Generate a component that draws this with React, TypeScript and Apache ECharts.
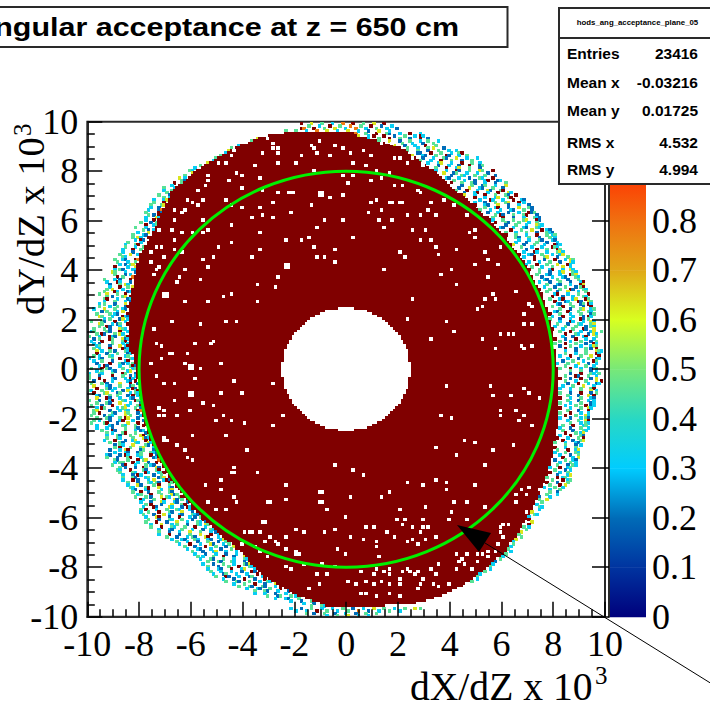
import React, { useEffect, useRef } from "react";
import * as echarts from "echarts";

const axisTicksMin = -10;
const axisTicksMax = 10;
const colorbarLabels = [0, 0.1, 0.2, 0.3, 0.4, 0.5, 0.6, 0.7, 0.8];

const titleText = "angular acceptance at z = 650 cm";
const statsName = "hods_ang_acceptance_plane_05";
const statsLabels = ["Entries", "Mean x", "Mean y", "RMS x", "RMS y"];
const statsValues = ["23416", "-0.03216", "0.01725", "4.532", "4.994"];

const acceptanceCircle = [[0, 0, 8]];

// colour scale: [value, colour]
const paletteStops: [number, string][] = [
  [0, "#00007c"], [0.1, "#0034a0"], [0.2, "#006cb8"], [0.3, "#00ccff"], [0.4, "#28d8c4"],
  [0.5, "#78e878"], [0.6, "#d8ff20"], [0.7, "#e0a818"], [0.8, "#f07010"], [0.9, "#ff3300"], [1, "#800000"],
];
const cellCodes: Record<string, number> = { b: 0.2, c: 0.32, g: 0.46, y: 0.63, o: 0.78, r: 1 };

// full-efficiency region: left / right edge per row (tenths), rows from y = 9.5 downwards
const darkLeft = [
  -24,-30,-34,-36,-38,-41,-43,-45,-46,-48,
  -50,-51,-53,-55,-56,-58,-59,-60,-61,-62,
  -63,-65,-66,-67,-67,-68,-68,-69,-69,-70,
  -70,-71,-71,-72,-72,-73,-73,-73,-74,-74,
  -75,-75,-76,-76,-77,-77,-78,-78,-79,-79,
  -80,-80,-80,-81,-81,-81,-81,-81,-82,-82,
  -82,-82,-82,-83,-83,-83,-83,-83,-83,-84,
  -84,-84,-84,-84,-84,-84,-84,-84,-84,-84,
  -84,-84,-84,-84,-84,-84,-84,-84,-83,-83,
  -82,-82,-82,-82,-81,-81,-81,-81,-81,-81,
  -80,-80,-80,-80,-80,-80,-80,-79,-79,-79,
  -79,-79,-79,-79,-78,-78,-78,-78,-78,-77,
  -77,-77,-76,-76,-76,-75,-75,-74,-74,-73,
  -73,-73,-72,-72,-71,-71,-70,-70,-69,-69,
  -68,-67,-66,-66,-65,-64,-63,-63,-62,-61,
  -60,-60,-59,-58,-57,-56,-55,-54,-53,-52,
  -51,-50,-49,-48,-47,-46,-44,-43,-42,-41,
  -40,-39,-38,-37,-37,-36,-35,-34,-33,-32,
  -30,-29,-27,-26,-24,-22,-21,-19,-16,-13,
  -10,-8,
];
const darkRight = [
  3,4,8,12,15,18,21,23,24,25,
  27,28,29,31,32,34,35,36,37,38,
  39,40,41,42,43,45,46,47,48,49,
  50,51,52,53,55,56,56,57,58,59,
  60,61,62,62,63,64,64,65,66,66,
  67,68,69,69,70,70,71,71,72,72,
  73,73,74,74,75,76,76,76,77,77,
  77,78,78,78,78,78,79,79,79,79,
  80,80,80,80,80,80,80,80,81,81,
  81,81,81,81,81,82,82,82,82,82,
  82,82,82,82,82,82,82,82,82,82,
  82,82,82,82,82,82,82,82,82,82,
  81,81,81,81,81,80,80,80,80,80,
  80,80,79,79,79,78,78,78,78,77,
  77,77,76,76,75,75,75,74,74,73,
  73,72,72,71,71,70,70,69,68,68,
  67,67,66,66,65,64,63,63,62,62,
  61,60,58,57,56,55,54,53,51,50,
  49,48,46,45,43,41,39,37,34,31,
  27,15,
];
// central hole: half width per row, moving away from y = 0 (tenths)
const holeHalfWidth = [25,25,25,24,24,24,24,24,23,23,22,22,21,21,20,19,18,17,16,15,14,12,10,8,3];

// partial-efficiency cells beside the dark region, per row; last char touches the dark edge
const leftCells = `
. . y g . c g. y c g
.g c .y g. c.. gc. ..y g.. y.c. ..gb
r..g .c.. g...c .c..g ...g.r g...b ..g.c c...cy .g...r. g...gy
.c..b.. c...bo g....rb ..g.b.r c...yc ...c..r. g...b.g ...r..cg g...c... ...g.b.c
..c...y. g...cb.. ..g.yc..r ...c.rb.. .g....c.. c...gr... .g...c..g c...r..g. .c...b... g...y..cr
...gc..... g..cb...ro ..g...c..g. ....c.b.gy. .r....c..y ..c.gb...cc .yg...c...b ...g...b.c.. ...r.g...o g...c.b...r.
.c...rc...b. ..b...g.yc.. ..c...r..g.y ...g.y...c... ..g...rc...bc g..y...g..r.. ...g.b...gy.r ..gr...c...bc ..c...g...c.b ...c.g...b...y.
..g...c..g..br c...y...g..cb. ...b.g...c.y.. .g....g.cb...r ..yg...c...rcb .....c.g...by.c g...gb...r...c. ...yg...c.bg..r ...g..rb...c... g...g.b...ygc.
.cg....gb...r..c ....g.rb...g.yc.. g...c...rcb...gr ...b.g...rg...ybc c...r...g...gr. ..c.b....g...c.c g...cg...b...y.cr ....g.c...r....rbc ...y.c..g.b...gcr g...r...b...g...bc
..g.c...gc....cg.. c...cb...g..r...gc ..c..g...b....cr.. ...b....r...gb.c.g ....c.rb....c...grb .g...r.gb....g...cg ....c.g...cb....cy.. c...gc...g...rg...b .g...b....r...g..b.c g...r....cb...c.rc.
c..b...r..c.....cb.r. ..g...g.b....y...r..b g..y....cb...g...bg.. ....r...gb.c....c.rb. .gc...g...c...b.y..gr ...r...gy...bg...c.gc c...cb...g..g...b.r.c ..y...rb...c...cb..c g...b...cr...gc...rg. ...g...gb...y...c...b
.g...b...r....yc...gr ....c.rg....c.gy...g.b ..gy....b...c.gc...ro ...g.r....gb...yg...b. g....b.gc....y.g...cr ....g...gb...g.ry...b.. .g.c...b...cr...c...b g....gr...b...y...r.. ..c....cb...gc...g..r .c...c.b....g...gb...
.g...rb...g...c.bc. ...g.c...gr...g...b .c...gb...g...yr.g ..g...gc....g...ybc .c...r...b..cy...r. ..g...gb....gc...yc ....b.gc...y....gb. ...g.r...g...gy...c .b...c.yr....bg...b ..c...cb...bg...gcb
cb...b.rc...cg...r.b .g...b...gr...c....bc ..gb...g...r.gy....o ...c.gg...r.c...b..r. .g...br...c...g.cb... ....g.b...b..rg...yb. ..gc...r....gb...gr.. ...g....gc...rc...cgr ...c...b.rc....b..g.. ...g...gb...cg...bgy.
...c...r.b...c.y...crb ....g...b...gc.gb...rg ...c...yb....g.r...g.. ....gc....gr...y...cb. ...cb...cr....c..gy.. ...g..r..b...g...gb... ....cg...r...g...ybg.. ...g...g.b...y.gc...gr ....rc...g...r...yb.g. ...c...b...yc...cb...b
....g.r...b...y...gr.. ...c...rb....yc...b.rc ...g.r...c...g...gc...cr ..c..g...r...gb...y...b. ...g...b...y.c...cb...gcb ..c...yr...b...r...c.b.g ...g...b...gc...g...b...r ..g...r...b...y...c...gc.b ...c...y...c.g...b...gc.yg ..g...r...gc...g...r...c..
...c...cb...g...c...b..gc ..g...b...c...y...g...c.b .c...r...b...g...y...r..c ...g...b...c.gb...yr...c. ...c...cb...gc...cb...cy ....g...c...b...g...b..g ...c...r...c...yb...c.g. .....g...b...r...g...b..y ....c...cb...c...b...g.r .....g...b...cy...c...c.
....c...b...c...b...c.. ....g.c...g...r...b...y ....c...gb...g...c...gc .....g...gb...gc...b.r ....c...b...g...c...gby .....g...b...g...r...gc ....c...cb...r...cy...c ...g...c...c...b...rb. ...c...bg...c...c...r. ...g...rb...c...bg...c
..c...b...r...b...r. ..g...gb...g...c..gc ...c...g...r...b...y ...g...gb...gb...c. ....c...cb...g...r. ....g...gb...c...b ....c...c...b...c.. .....g...bg...g.c ....c...cb...g.. ......c...b...g
.....c...b.. .....g...gc
`.trim().split(/\s+/);

// same, first char touches the dark edge
const rightCells = `
o...g...r...gb...c...r...c.. y...c.r...r...b...g...c.rc.. c...g...r...g...b...r..b... g...y...b...g...c..g...c.. ..b...g...c...b...g. y...b...c...r...g... ..g...c...g.y...b... g...g...b...g...c..c. ...bb...r...g...c..gr. y...cb...g...rb...c..g
..b...c...gb...y...c...c g...c...r...g...b...g.. ..c...cy...c...r...g..c ....b...c...b...r...bg ..g...r...cy...g...b... c...c...rb...g...yg...r ..y...bg...c...c...b.. ....b...gc...g...g...b.. .cb...c...b...gc...r... ...g...c...b...cr...bc
.r...g...gb...c...b...g c...b...g...bg...c...y.. ..b...y...cb...g...b... g...r...c...yb...gr... ..b...cr...c...r...yc y...c...r...g...gb..r ...r...c...cy...gr... ....c...rc...c...r..cb .c...b...g...gy...r.c r...cb...y...b...c...b
...g...cr...b...y...gb g...c...c...cb...g..b ..b...c...b...c...rbg ....g.rb...g...gr...b .g...r...b...c...gcb c...g...g...gy...rb. .r...gb...g...c..g.. ....b...g...c...ygc. .cb...c...cb...gc... ....r...g...y...r.cb
.g...c...g...b...gcb r...g...c...r...g.cg ...gb...g...b...g.c ....c...c...gb...cb ..c...b...g...b...c y...b...g...c...rbc ...g...c...c...rgc ....b...r...g...rg ..c...rc...c...gyc r...cb...g...c..cy
.c...r...gy...b...g ....r...b...r...c.yg .c...c...g...b...yc c...r...g...y...rc .g...c...g...y..c r...g...cr...c..yc ...g...b...cy...gc ..g...cb...c...rgy ...b...c...cb...gc ....cb...g...b...g
.c...b...g...b...cr ....g...cb...c...ry ..c...b...g...b.gr r...g...g...rb...gc ..g...b...y...c..g ....cr...c...g...r ...r...b...c...gc ..g...cr...cy...rg ...r...bc...rb..yg ....cb...g...bg.rc
..g...r...g...b..r ....g...b...gy..cg ..cb...r...g...gc r...g...c...g...bg .c...r...c...b.rc g...b...c...rb.g ...c...rc...c..yc ..g...b...gc...gy .c...g...g...b.gc r...c...g...rb..y
..g...r...c...cy..g ....r...gc...b.yc ...c...b...cr...g r...b...r...c..c ..g...c...g...b.g g...r...g...b..rc ..b...g...c...cyg ....r...b...g.b.r ...c...b...g...ygc ...g...c...g...rc
.c...r...g...y..r ....c...b...g..bc ..b...g...c...rg c...g...y...b..c ...g...c...g..c g...r...c...b.g ....g...g...b.c ....b...r...gc.g ..g...rb...g..c r...b...r...b.y
..g...c...g...y.r ...b...r...c..bc .c...g...y...c c...c...g...gr ....c...g...y.c g...b...r...b.g ...g...b...y.r r...c...g...cb ...g...b...c.c g...c...g...bc
..c...g...r.bc r...c...g..yc ...g...b...r. g...r...c..c ..r...g...yc c...b...c.gb ...c...g..yr ....g...c.gc .g...r...cg c...b...g..c
..g...b...gc ...r...g.cy .c...r...gb r...c...g.r ..r...b..gy g...c...cb ....g...b.c r...c...g. .g...r..cy c...g...gc
..c...b..g ...r...c.y .b...g..cb ...c...g.c ..g...b.gc c...r..cg ..g...b.c r...c..g ...b...cy g...r.cg
..g...r.cg r...b...g ..g...r.y c...g..c ...c...g ...g..b ..g...c b...c g..y ..g
c.. ..gc ..c y.. .gc c... r.. ..y ..r g.c
..g y.. g.. .g y. c .g c. g. .c
g. c .g b c. g .c g. c g .c g
`.trim().split(/\s+/);

// rows above and below the dark region: [row bottom (tenths), first x (tenths), cells]
const capRows: [number, number, string][] = [
  [99, -18, "r...y...g...c...o...r...g...y...r"],
  [98, -17, "..g...c...r...g...o...g...r...b...c.."],
  [97, -18, "ro...r...g...y...c...o...c...g...c...b."],
  [96, -24, "g...g...c...o...y...c...y...c...b...y...c..."],
  [-97, -24, "..c...b...g...c...c...g...b...c...y...g...c...g...y.g"],
  [-98, -20, "c...c...r...g...c...g...o...b...c...g...c"],
  [-99, -16, "g..b...g...b...c...b...g...g"],
  [-100, -8, "c...g...y...c...c"],
];

// empty cells inside the dark region: x, y pairs (tenths)
const emptyCells = [
  -14,90,-11,92,-13,89,-12,87,-31,93,-29,91,-29,89,-27,89,-27,87,-33,87,-20,83,-7,86,-36,82,-50,83,-47,83,-44,88,-45,86,-2,89,1,87,2,83,
  -27,71,-23,71,-22,71,-21,71,-11,71,-10,71,-11,70,-10,70,-2,70,-7,69,-29,67,-33,72,-62,68,-56,68,-60,67,-58,66,-67,64,-63,64,-56,60,-54,56,-45,58,-64,55,-67,52,
  -74,49,-72,49,-50,49,-45,51,-34,55,-34,48,-37,45,-52,45,-54,41,-56,44,-76,43,-74,40,-75,38,-73,41,-63,40,-65,37,-66,35,-57,36,-71,30,-70,30,-71,29,-70,29,-63,27,-54,27,-48,29,-45,30,
  -35,34,-35,27,-24,42,-23,42,-24,41,-23,41,-27,37,-28,33,-13,49,-12,45,-9,45,-5,43,-18,52,-15,53,-24,52,-29,61,-22,63,-14,66,-9,60,-2,60,-12,57,2,53,-5,48,
  -75,16,-68,19,-57,18,-47,19,-43,19,-74,10,-72,9,-69,6,-68,6,-62,6,-59,10,-52,11,-53,10,
  9,76,9,86,13,91,18,85,20,85,23,83,29,82,7,82,18,74,21,74,28,71,16,67,17,67,20,67,21,67,32,67,11,68,13,64,8,63,12,60,14,57,23,62,28,62,31,64,34,62,25,56,30,56,
  47,55,49,56,49,53,28,52,32,52,41,66,20,47,22,45,34,49,35,46,42,48,53,47,59,49,54,44,49,42,58,42,14,40,40,40,36,38,42,34,54,37,25,28,53,28,56,30,57,28,50,24,70,26,23,20,38,19,41,15,52,12,59,14,62,14,68,18,71,18,32,12,67,9,68,8,71,9,57,8,
  -76,2,-72,4,-63,2,-61,1,-60,1,-61,0,-60,0,-57,0,-74,-3,-71,-6,-67,-6,-59,-4,-44,-5,-29,-6,-61,-10,-60,-10,-61,-11,-60,-11,-49,-10,-41,-10,-49,2,-67,-13,
  -73,-16,-71,-17,-73,-19,-71,-19,-66,-19,-61,-17,-56,-14,-52,-15,-48,-19,-51,-21,-45,-21,-40,-22,-25,-19,-29,-23,-71,-29,-70,-29,-71,-28,-60,-27,-47,-27,-66,-31,-63,-33,-60,-37,-62,-36,-39,-33,
  -44,-40,-45,-42,-44,-42,-35,-42,-5,-39,2,-41,-55,-47,-49,-45,-24,-47,-49,-49,-44,-52,-11,-50,-10,-50,-24,-53,-11,-54,-10,-54,-31,-54,-30,-54,-54,-54,-43,-54,-51,-57,-47,-57,1,-52,-8,-57,-1,-60,
  -33,-62,-32,-62,-40,-66,-37,-66,-34,-66,-30,-68,-24,-68,-20,-65,-17,-66,-5,-65,-9,-66,-27,-71,-24,-73,-20,-75,-4,-73,-41,-71,-34,-74,-31,-76,-24,-80,-22,-81,-12,-83,-11,-87,-8,-83,0,-86,-15,-89,
  38,-7,55,-7,56,-11,63,-11,68,-8,70,-10,74,-12,6,-43,23,-46,16,-50,13,-52,34,-45,38,-46,38,-49,29,-47,49,-47,41,-54,46,-54,53,-39,45,-29,49,-30,56,-33,64,-31,42,-35,34,-32,40,-20,36,-19,
  59,-17,66,-21,65,-17,68,-19,71,-23,59,-19,53,-56,30,-56,20,-57,40,-58,39,-61,46,-61,22,-61,29,-61,7,-64,10,-64,21,-63,25,-64,29,-64,31,-64,28,-66,34,-68,18,-68,6,-69,11,-70,23,-70,27,-71,
  60,-63,62,-63,59,-66,70,-48,69,-51,74,-49,65,-54,5,-82,10,-83,10,-87,13,-86,16,-83,20,-87,20,-85,16,-87,24,-82,27,-82,28,-87,34,-83,42,-75,46,-75,45,-79,52,-75,54,-76,57,-74,59,-64,33,-87,39,-87,7,-86,12,-76,3,-87,5,-91,11,-92,
  -43,79,-41,78,-46,76,-54,76,-54,78,-58,72,-55,74,-41,73,-34,77,-27,83,-18,86,-5,90,-13,80,2,78,-2,78,0,75,-47,68,-64,63,-67,60,-73,56,-68,56,-60,55,-76,47,-71,45,-67,48,-64,47,-56,55,-45,66,-41,65,-37,61,-34,65,-33,62,
  6,88,17,91,11,80,16,79,13,77,9,67,25,85,40,74,27,72,17,60,37,68,46,62,65,31,71,25,52,25,68,22,64,14,
  21,-82,23,-81,26,-83,29,-85,32,-81,35,-79,42,-81,44,-77,48,-81,50,-78,54,-74,50,-75,58,-71,60,-68,69,-58,65,-51,67,-49,14,-82,16,-81,11,-81,7,-91,16,-91,20,-92,27,-89,35,-88,43,-78,19,-61,30,-69,25,-69,15,-66,11,-72,
  -20,-74,-19,-75,-10,-79,-17,-79,-28,-70,-32,-70,-36,-72,-38,-66,-1,-75,1,-68,-5,-80,
];

const FONT_SERIF = "'Liberation Serif', 'Times New Roman', serif";
const FONT_SANS = "'Liberation Sans', Arial, sans-serif";
const FRAME = "#2a2a2a";

function paletteColor(v: number): string {
  for (let i = 1; i < paletteStops.length; i++) {
    const [v0, c0] = paletteStops[i - 1];
    const [v1, c1] = paletteStops[i];
    if (v <= v1) return echarts.color.lerp((v - v0) / (v1 - v0), [c0, c1]) as string;
  }
  return paletteStops[paletteStops.length - 1][1];
}

// every span is [x0, x1, yBottom, yTop, value]; value < 0 draws background
function buildData() {
  const dark: number[][] = [];
  const speckle: number[][] = [];
  const centralHole: number[][] = [];
  const empties: number[][] = [];
  const addRow = (cells: string, firstX: number, rowY: number) => {
    [...cells].forEach((ch, k) => {
      if (cellCodes[ch] !== undefined) {
        const x = firstX + k;
        speckle.push([x / 10, (x + 1) / 10, rowY / 10, (rowY + 1) / 10, cellCodes[ch]]);
      }
    });
  };
  darkLeft.forEach((l, i) => {
    const rowY = 95 - i;
    const r = darkRight[i];
    dark.push([l / 10, r / 10, rowY / 10, (rowY + 1) / 10, 1]);
    if (leftCells[i]) addRow(leftCells[i], l - leftCells[i].length, rowY);
    if (rightCells[i]) addRow(rightCells[i], r, rowY);
  });
  capRows.forEach(([rowY, x, cells]) => addRow(cells, x, rowY));
  holeHalfWidth.forEach((h, j) => {
    centralHole.push([-h / 10, h / 10, j / 10, (j + 1) / 10, -1]);
    centralHole.push([-h / 10, h / 10, -(j + 1) / 10, -j / 10, -1]);
  });
  for (let i = 0; i < emptyCells.length; i += 2) {
    const x = emptyCells[i];
    const y = emptyCells[i + 1];
    empties.push([x / 10, (x + 1) / 10, y / 10, (y + 1) / 10, -1]);
  }
  return { dark, speckle, centralHole, empties };
}

// pad: extra pixels on a cell, standing in for the blur of the downscaled reference
const renderCell = (pad: number) => (_p: any, api: any) => {
  const a = api.coord([api.value(0), api.value(3)]);
  const b = api.coord([api.value(1), api.value(2)]);
  const x = Math.round(a[0]);
  const y = Math.round(a[1]);
  const v = api.value(4);
  return {
    type: "rect",
    shape: { x, y, width: Math.round(b[0]) - x + pad, height: Math.round(b[1]) - y + pad },
    style: { fill: v < 0 ? "#ffffff" : paletteColor(v) },
  };
};

const cellSeries = (name: string, data: number[][], pad: number) => ({
  type: "custom",
  name,
  silent: true,
  clip: true,
  xAxisIndex: 0,
  yAxisIndex: 0,
  encode: { x: [0, 1], y: [2, 3] },
  renderItem: renderCell(pad),
  data,
});

export default function App() {
  const ref = useRef<HTMLDivElement>(null);
  useEffect(() => {
    document.body.style.margin = "0";
    const chart = echarts.init(ref.current!, null, { renderer: "svg" });
    const { dark, speckle, centralHole, empties } = buildData();
    const paletteBands = paletteStops.slice(1).map(([v, c], i) => [paletteStops[i][0], v, paletteStops[i][1], c]);

    const statY = [53.5, 82, 110, 142, 169];
    const common = { fontFamily: FONT_SERIF, fontSize: 36, color: "#000", lineHeight: 26 };

    chart.setOption({
      animation: false,
      backgroundColor: "#fff",
      grid: [
        { left: 87.3, top: 121.7, width: 517.7, height: 495, show: true, borderColor: FRAME, borderWidth: 2, backgroundColor: "transparent" },
        { left: 609, top: 121.7, width: 37, height: 495, show: false },
      ],
      xAxis: [
        {
          type: "value", gridIndex: 0, min: axisTicksMin, max: axisTicksMax, interval: 2, z: 10,
          axisLine: { show: true, onZero: false, lineStyle: { color: FRAME, width: 2 } },
          axisTick: { show: true, inside: true, length: 15, lineStyle: { color: "#000", width: 1.5 } },
          minorTick: { show: true, splitNumber: 4, length: 7.5, lineStyle: { color: "#000", width: 1.5 } },
          axisLabel: { ...common, margin: 14 },
          splitLine: { show: false },
        },
        { type: "value", gridIndex: 1, min: 0, max: 1, show: false },
      ],
      yAxis: [
        {
          type: "value", gridIndex: 0, min: axisTicksMin, max: axisTicksMax, interval: 2, z: 10,
          axisLine: { show: true, onZero: false, lineStyle: { color: FRAME, width: 2 } },
          axisTick: { show: true, inside: true, length: 15, lineStyle: { color: "#000", width: 1.5 } },
          minorTick: { show: true, splitNumber: 4, length: 7.5, lineStyle: { color: "#000", width: 1.5 } },
          axisLabel: { ...common, margin: 9 },
          splitLine: { show: false },
        },
        {
          type: "value", gridIndex: 1, position: "right", min: 0, max: 1, interval: 0.1, z: 10,
          axisLine: { show: true, lineStyle: { color: FRAME, width: 2 } },
          axisTick: { show: true, inside: true, length: 17, lineStyle: { color: "#000", width: 1.5 } },
          axisLabel: {
            ...common, margin: 6,
            formatter: (v: number) => (colorbarLabels.includes(v) ? String(v) : ""),
          },
          splitLine: { show: false },
        },
      ],
      series: [
        cellSeries("speckle", speckle, 1),
        cellSeries("dark", dark, 0),
        cellSeries("central hole", centralHole, 0),
        cellSeries("empty cells", empties, 1),
        {
          type: "custom",
          name: "acceptance circle",
          silent: true,
          z: 5,
          xAxisIndex: 0,
          yAxisIndex: 0,
          encode: { x: 0, y: 1 },
          data: acceptanceCircle,
          renderItem: (_p: any, api: any) => {
            const c = api.coord([api.value(0), api.value(1)]);
            const s = api.size([api.value(2), api.value(2)]);
            return {
              type: "ellipse",
              shape: { cx: c[0], cy: c[1], rx: s[0], ry: s[1] },
              style: { fill: "none", stroke: "#00f000", lineWidth: 3 },
            };
          },
        },
        {
          type: "custom",
          name: "palette",
          silent: true,
          xAxisIndex: 1,
          yAxisIndex: 1,
          encode: { y: [0, 1] },
          data: paletteBands,
          renderItem: (_p: any, api: any) => {
            const low = api.coord([0, api.value(0)]);
            const high = api.coord([1, api.value(1)]);
            return {
              type: "rect",
              shape: { x: low[0], y: high[1], width: high[0] - low[0], height: low[1] - high[1] + 0.5 },
              style: {
                fill: new echarts.graphic.LinearGradient(0, 0, 0, 1, [
                  { offset: 0, color: paletteBands[_p.dataIndex][3] as string },
                  { offset: 1, color: paletteBands[_p.dataIndex][2] as string },
                ]),
              },
            };
          },
        },
      ],
      graphic: [
        // title box
        { type: "rect", z: 50, shape: { x: -6, y: 7, width: 513.5, height: 40 }, style: { fill: "#fff", stroke: FRAME, lineWidth: 2 } },
        { type: "text", z: 51, x: 459, y: 27, scaleX: 1.15, style: { text: titleText, align: "right", verticalAlign: "middle", font: `bold 26.5px ${FONT_SANS}`, fill: "#000" } },
        // axis titles
        { type: "text", z: 51, x: 410, y: 687, style: { text: "dX/dZ x 10", align: "left", verticalAlign: "middle", font: `39.6px ${FONT_SERIF}`, fill: "#000" } },
        { type: "text", z: 51, x: 595, y: 675, style: { text: "3", align: "left", verticalAlign: "middle", font: `25px ${FONT_SERIF}`, fill: "#000" } },
        { type: "text", z: 51, x: 31, y: 315, rotation: Math.PI / 2, style: { text: "dY/dZ x 10", align: "left", verticalAlign: "middle", font: `38.6px ${FONT_SERIF}`, fill: "#000" } },
        { type: "text", z: 51, x: 22, y: 136, rotation: Math.PI / 2, style: { text: "3", align: "left", verticalAlign: "middle", font: `25px ${FONT_SERIF}`, fill: "#000" } },
        // arrow
        { type: "line", z: 60, shape: { x1: 485, y1: 543, x2: 712, y2: 684 }, style: { stroke: "#000", lineWidth: 1 } },
        { type: "polygon", z: 60, shape: { points: [[457, 525], [491, 533], [479, 552]] }, style: { fill: "#000" } },
        // stats box
        { type: "rect", z: 100, shape: { x: 559, y: 8, width: 156, height: 176 }, style: { fill: "#fff", stroke: FRAME, lineWidth: 2 } },
        { type: "line", z: 101, shape: { x1: 559, y1: 38, x2: 712, y2: 38 }, style: { stroke: FRAME, lineWidth: 2 } },
        { type: "text", z: 102, x: 637.5, y: 22, style: { text: statsName, align: "center", verticalAlign: "middle", font: `bold 7.8px ${FONT_SANS}`, fill: "#000" } },
        ...statsLabels.map((t, i) => ({ type: "text", z: 102, x: 567, y: statY[i], style: { text: t, align: "left", verticalAlign: "middle", font: `bold 15.5px ${FONT_SANS}`, fill: "#000" } })),
        ...statsValues.map((t, i) => ({ type: "text", z: 102, x: 698, y: statY[i], style: { text: t, align: "right", verticalAlign: "middle", font: `bold 15.5px ${FONT_SANS}`, fill: "#000" } })),
      ],
    });
    return () => chart.dispose();
  }, []);
  return <div ref={ref} style={{ position: "fixed", left: 0, top: 0, width: 710, height: 709 }} />;
}
